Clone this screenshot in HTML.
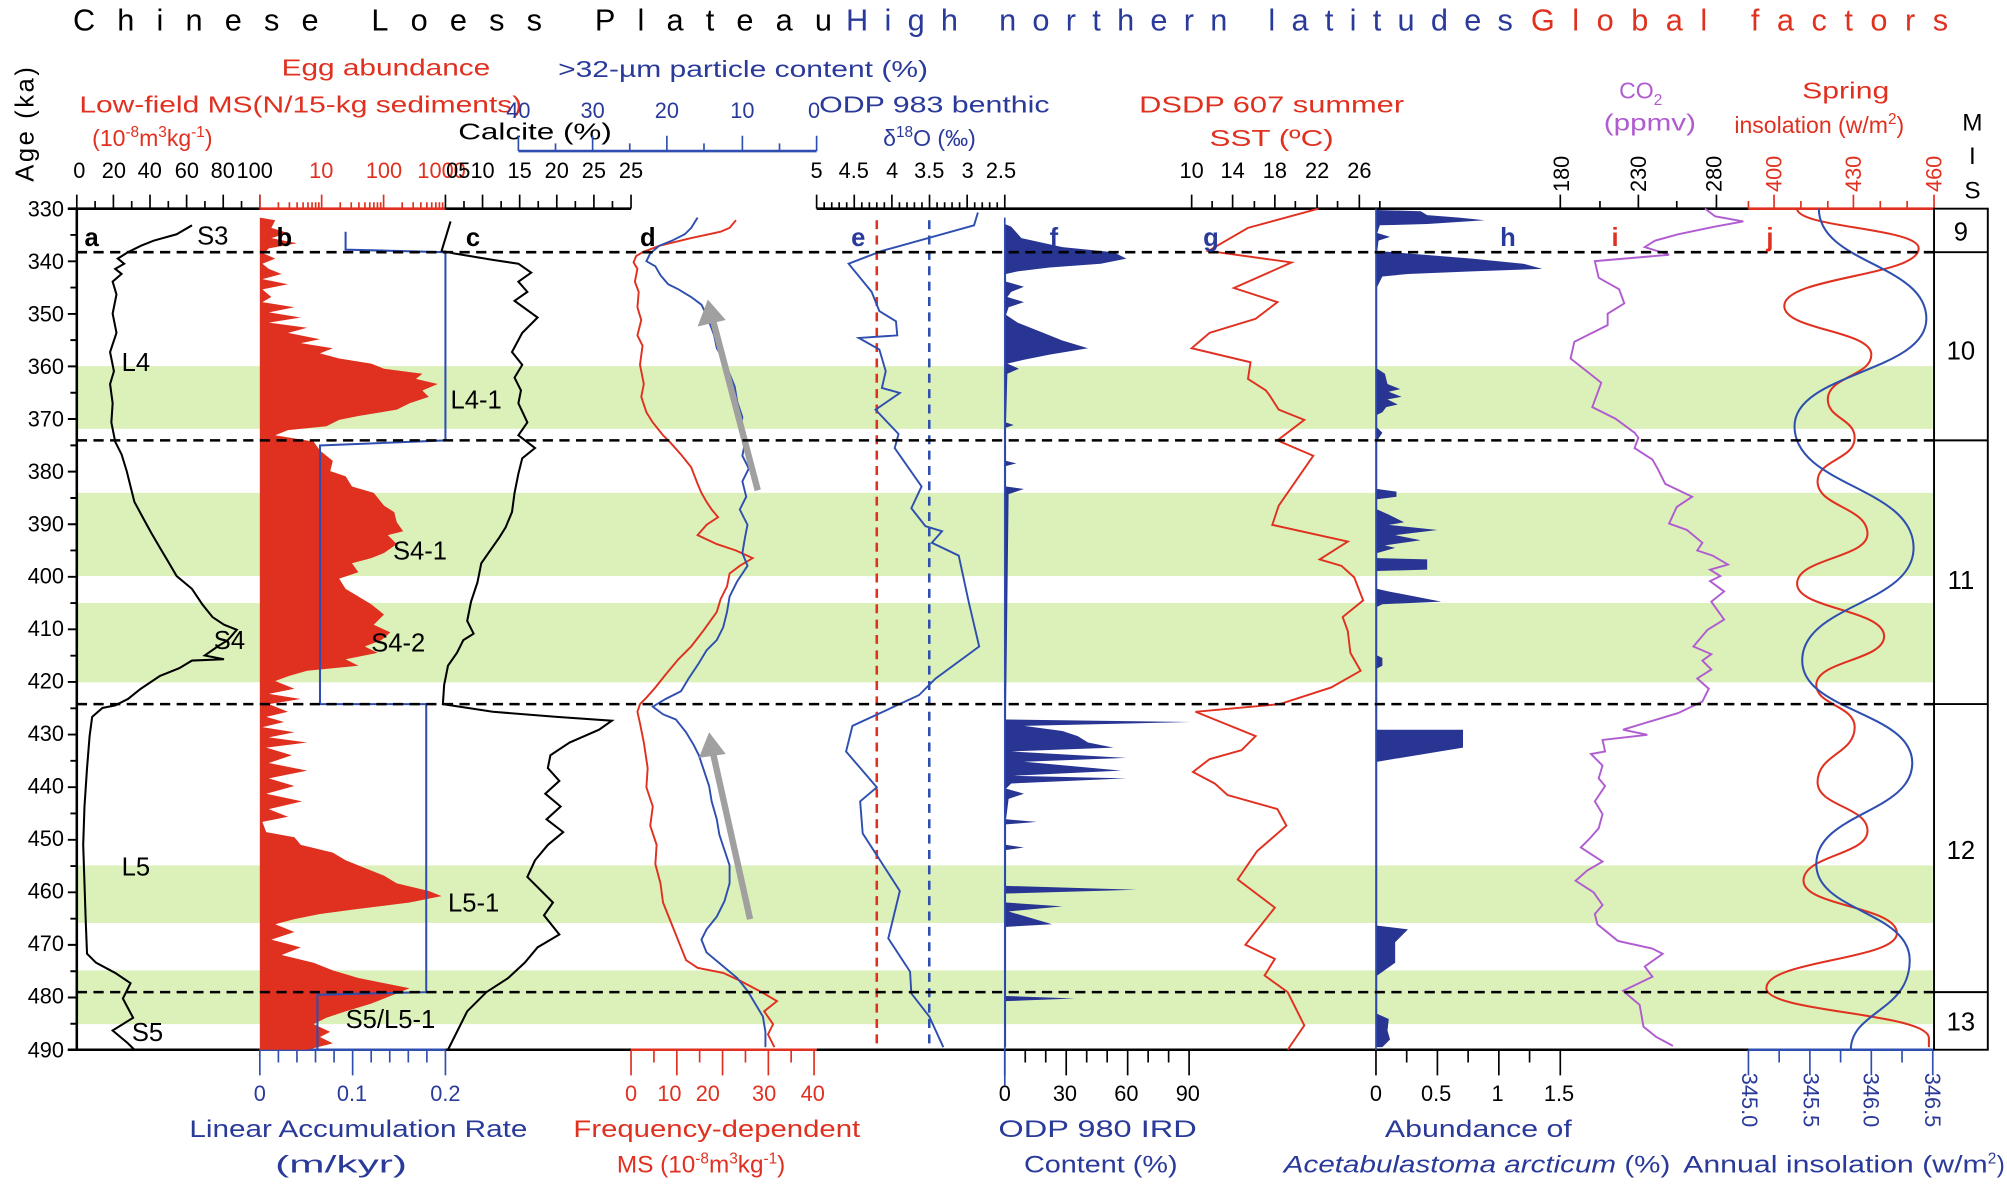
<!DOCTYPE html>
<html><head><meta charset="utf-8"><style>
html,body{margin:0;padding:0;background:#fff;}
svg{display:block;font-family:"Liberation Sans",Arial,sans-serif;}
</style></head><body>
<svg width="2007" height="1188" viewBox="0 0 1568 928" preserveAspectRatio="none" xmlns="http://www.w3.org/2000/svg">
<rect width="1568" height="928" fill="#fff"/>
<!-- Title -->
<text x="57" y="24" font-size="24" textLength="593" lengthAdjust="spacing" fill="#000">Chinese Loess Plateau</text>
<text x="661" y="24" font-size="24" textLength="521" lengthAdjust="spacing" fill="#2a3a9a">High northern latitudes</text>
<text x="1196" y="24" font-size="24" textLength="326" lengthAdjust="spacing" fill="#e03020">Global factors</text>

<!-- green bands -->
<g fill="#dcf1b9">
<rect x="60" y="286" width="1450" height="49"/>
<rect x="60" y="385" width="1450" height="65"/>
<rect x="60" y="471" width="1450" height="62"/>
<rect x="60" y="676" width="1450" height="45"/>
<rect x="60" y="758" width="1450" height="42"/>
</g>

<!-- header texts -->
<g font-size="18">
<text x="220" y="59" textLength="163" lengthAdjust="spacingAndGlyphs" fill="#e03020">Egg abundance</text>
<text x="62" y="88" textLength="346" lengthAdjust="spacingAndGlyphs" fill="#e03020">Low-field MS(N/15-kg sediments)</text>
<text x="72" y="114" fill="#e03020">(10<tspan font-size="12" dy="-7">-8</tspan><tspan dy="7">m</tspan><tspan font-size="12" dy="-7">3</tspan><tspan dy="7">kg</tspan><tspan font-size="12" dy="-7">-1</tspan><tspan dy="7">)</tspan></text>
<text x="358" y="109" textLength="120" lengthAdjust="spacingAndGlyphs" fill="#000">Calcite (%)</text>
<text x="436" y="60" textLength="289" lengthAdjust="spacingAndGlyphs" fill="#2a3a9a">&gt;32-µm particle content (%)</text>
<text x="640" y="88" textLength="180" lengthAdjust="spacingAndGlyphs" fill="#2a3a9a">ODP 983 benthic</text>
<text x="690" y="114" fill="#2a3a9a">δ<tspan font-size="12" dy="-7">18</tspan><tspan dy="7">O (‰)</tspan></text>
<text x="890" y="88" textLength="207" lengthAdjust="spacingAndGlyphs" fill="#e03020">DSDP 607 summer</text>
<text x="945" y="114" textLength="97" lengthAdjust="spacingAndGlyphs" fill="#e03020">SST (ºC)</text>
<text x="1265" y="77" fill="#b05cd0">CO<tspan font-size="12" dy="5">2</tspan></text>
<text x="1253" y="102" textLength="72" lengthAdjust="spacingAndGlyphs" fill="#b05cd0">(ppmv)</text>
<text x="1408" y="77" textLength="68" lengthAdjust="spacingAndGlyphs" fill="#e03020">Spring</text>
<text x="1355" y="104" fill="#e03020">insolation (w/m<tspan font-size="12" dy="-7">2</tspan><tspan dy="7">)</tspan></text>
</g>
<g font-size="19" text-anchor="middle" fill="#000">
<text x="1541" y="102">M</text>
<text x="1541" y="128">I</text>
<text x="1541" y="155">S</text>
</g>
<text transform="translate(26,142) rotate(-90)" font-size="20" fill="#000" letter-spacing="2">Age (ka)</text>

<!-- top tick labels -->
<g font-size="17" text-anchor="middle">
<g fill="#000"><text x="62" y="139">0</text><text x="89" y="139">20</text><text x="117" y="139">40</text><text x="146" y="139">60</text><text x="174" y="139">80</text><text x="199" y="139">100</text></g>
<g fill="#e03020"><text x="251" y="139">10</text><text x="300" y="139">100</text><text x="345" y="139">1000</text></g>
<g fill="#000"><text x="358" y="139">05</text><text x="377" y="139">10</text><text x="406" y="139">15</text><text x="435" y="139">20</text><text x="464" y="139">25</text></g>
<text x="493" y="139" fill="#000">25</text>
<g fill="#2a3a9a"><text x="405" y="92">40</text><text x="463" y="92">30</text><text x="521" y="92">20</text><text x="580" y="92">10</text><text x="636" y="92">0</text></g>
<g fill="#000"><text x="638" y="139">5</text><text x="667" y="139">4.5</text><text x="697" y="139">4</text><text x="726" y="139">3.5</text><text x="756" y="139">3</text><text x="782" y="139">2.5</text></g>
<g fill="#000"><text x="931" y="139">10</text><text x="963" y="139">14</text><text x="996" y="139">18</text><text x="1029" y="139">22</text><text x="1062" y="139">26</text></g>
</g>
<g font-size="17" fill="#000">
<text transform="translate(1226,150) rotate(-90)">180</text>
<text transform="translate(1286,150) rotate(-90)">230</text>
<text transform="translate(1345,150) rotate(-90)">280</text>
<g fill="#e03020"><text transform="translate(1392,150) rotate(-90)">400</text>
<text transform="translate(1454,150) rotate(-90)">430</text>
<text transform="translate(1517,150) rotate(-90)">460</text></g>
</g>

<!-- left axis labels -->
<g font-size="17" text-anchor="end" fill="#000">
<text x="50" y="169">330</text><text x="50" y="210">340</text><text x="50" y="251">350</text><text x="50" y="292">360</text><text x="50" y="333">370</text><text x="50" y="374">380</text><text x="50" y="415">390</text><text x="50" y="456">400</text><text x="50" y="497">410</text><text x="50" y="538">420</text><text x="50" y="579">430</text><text x="50" y="620">440</text><text x="50" y="661">450</text><text x="50" y="702">460</text><text x="50" y="743">470</text><text x="50" y="784">480</text><text x="50" y="826">490</text>
</g>
<path d="M53,163H60M55,183.5H60M53,204.1H60M55,224.6H60M53,245.2H60M55,265.7H60M53,286.2H60M55,306.8H60M53,327.3H60M55,347.9H60M53,368.4H60M55,389H60M53,409.5H60M55,430H60M53,450.6H60M55,471.1H60M53,491.6H60M55,512.2H60M53,532.7H60M55,553.3H60M53,573.8H60M55,594.3H60M53,614.9H60M55,635.4H60M53,656H60M55,676.5H60M53,697H60M55,717.6H60M53,738.1H60M55,758.7H60M53,779.2H60M55,799.7H60M53,820H60" stroke="#000" stroke-width="1.5"/>

<!-- axes lines -->
<g stroke-width="2" fill="none">
<path d="M53,163H203M348,163H493M638,163H1366" stroke="#000"/>
<path d="M203,163H348M1366,163H1511" stroke="#e03020"/>
<path d="M60,163V820" stroke="#000"/>
<path d="M53,820H203M348,820H493M638,820H1366" stroke="#000"/>
<path d="M203,820H348M1366,820H1511" stroke="#2f4fb0"/>
<path d="M493,820H638" stroke="#e03020"/>
<path d="M405,118H638" stroke="#2f4fb0"/>
</g>
<!-- top ticks -->
<g stroke-width="1.3" fill="none">
<path stroke="#000" d="M60,163V152M74.3,163V157M88.6,163V152M102.9,163V157M117.2,163V152M131.5,163V157M145.8,163V152M160.1,163V157M174.4,163V152M188.7,163V157M203,163V152
M348,163V152M362.5,163V157M377,163V152M391.5,163V157M406,163V152M420.5,163V157M435,163V152M449.5,163V157M464,163V152M478.5,163V157M493,163V152
M638,163V152M643.9,163V158M649.8,163V158M655.6,163V158M661.5,163V158M667.4,163V152M673.3,163V158M679.2,163V158M685,163V158M690.9,163V158M696.8,163V152M702.7,163V158M708.6,163V158M714.4,163V158M720.3,163V158M726.2,163V152M732.1,163V158M738,163V158M743.8,163V158M749.7,163V158M755.6,163V152M761.5,163V158M767.4,163V158M773.2,163V158M779.1,163V158M785,163V152
M931,163V152M947,163V157M963,163V152M980,163V157M996,163V152M1012,163V157M1029,163V152M1045,163V157M1062,163V152M1078,163V157
M1219,163V152M1250,163V157M1280,163V152M1310,163V157M1341,163V152"/>
<path stroke="#e03020" d="M203,163V152M217.5,163V158M226.1,163V158M232.1,163V158M236.8,163V158M240.6,163V158M243.8,163V158M246.6,163V158M249.1,163V158M251.3,163V152M265.8,163V158M274.4,163V158M280.4,163V158M285.1,163V158M288.9,163V158M292.1,163V158M294.9,163V158M297.4,163V158M299.7,163V152M314.2,163V158M322.8,163V158M328.8,163V158M333.5,163V158M337.3,163V158M340.5,163V158M343.3,163V158M345.8,163V158
M1366,163V157M1386,163V152M1407,163V157M1428,163V157M1448,163V152M1469,163V157M1490,163V157M1511,163V152"/>
<path stroke="#2f4fb0" d="M405,118V106M434,118V112M463,118V106M492,118V112M521,118V106M550,118V112M580,118V106M609,118V112M638,118V106"/>
<!-- bottom ticks -->
<path stroke="#2f4fb0" d="M203,820V840M217.5,820V830M232,820V830M246.5,820V830M261,820V830M275.5,820V840M290,820V830M304.5,820V830M319,820V830M333.5,820V830M348,820V840
M1366,820V840M1390,820V830M1414,820V840M1438,820V830M1462,820V840M1486,820V830M1510,820V840"/>
<path stroke="#e03020" d="M493,820V840M510.9,820V830M528.8,820V840M546.6,820V830M564.5,820V840M582.4,820V830M600.3,820V840M618.1,820V830M636,820V840"/>
<path stroke="#000" d="M785,820V840M801,820V830M817,820V830M833,820V840M849,820V830M865,820V830M881,820V840M897,820V830M913,820V830M929,820V840
M1075,820V840M1099,820V830M1123,820V840M1147,820V830M1171,820V840M1195,820V830M1219,820V840"/>
</g>

<!-- bottom tick labels -->
<g font-size="17" text-anchor="middle">
<g fill="#2a3a9a"><text x="203" y="860">0</text><text x="275" y="860">0.1</text><text x="348" y="860">0.2</text></g>
<g fill="#e03020"><text x="493" y="860">0</text><text x="523" y="860">10</text><text x="553" y="860">20</text><text x="597" y="860">30</text><text x="635" y="860">40</text></g>
<g fill="#000"><text x="785" y="860">0</text><text x="832" y="860">30</text><text x="880" y="860">60</text><text x="928" y="860">90</text>
<text x="1075" y="860">0</text><text x="1122" y="860">0.5</text><text x="1170" y="860">1</text><text x="1218" y="860">1.5</text></g>
</g>
<g font-size="17" fill="#2a3a9a">
<text transform="translate(1361,838) rotate(90)">345.0</text>
<text transform="translate(1409,838) rotate(90)">345.5</text>
<text transform="translate(1456,838) rotate(90)">346.0</text>
<text transform="translate(1504,838) rotate(90)">346.5</text>
</g>
<g font-size="19">
<text x="148" y="888" textLength="264" lengthAdjust="spacingAndGlyphs" fill="#2a3a9a">Linear Accumulation Rate</text>
<text x="215" y="916" textLength="103" lengthAdjust="spacingAndGlyphs" fill="#2a3a9a">(m/kyr)</text>
<text x="448" y="888" textLength="224" lengthAdjust="spacingAndGlyphs" fill="#e03020">Frequency-dependent</text>
<text x="482" y="916" fill="#e03020">MS (10<tspan font-size="12" dy="-7">-8</tspan><tspan dy="7">m</tspan><tspan font-size="12" dy="-7">3</tspan><tspan dy="7">kg</tspan><tspan font-size="12" dy="-7">-1</tspan><tspan dy="7">)</tspan></text>
<text x="780" y="888" textLength="155" lengthAdjust="spacingAndGlyphs" fill="#2a3a9a">ODP 980 IRD</text>
<text x="800" y="916" textLength="120" lengthAdjust="spacingAndGlyphs" fill="#2a3a9a">Content (%)</text>
<text x="1082" y="888" textLength="146" lengthAdjust="spacingAndGlyphs" fill="#2a3a9a">Abundance of</text>
<text x="1003" y="916" textLength="302" lengthAdjust="spacingAndGlyphs" fill="#2a3a9a"><tspan font-style="italic">Acetabulastoma arcticum</tspan> (%)</text>
<text x="1315" y="916" fill="#2a3a9a" textLength="238" lengthAdjust="spacingAndGlyphs">Annual insolation (w/m</text>
<text x="1553" y="909" font-size="12" fill="#2a3a9a">2</text>
<text x="1560" y="916" fill="#2a3a9a">)</text>
</g>

<!-- MIS box -->
<g stroke="#000" stroke-width="1.5" fill="none">
<rect x="1511" y="163" width="42" height="657"/>
<path d="M1511,197H1553M1511,344H1553M1511,550H1553M1511,775H1553"/>
</g>
<g font-size="20" text-anchor="middle" fill="#000">
<text x="1532" y="188">9</text><text x="1532" y="281">10</text><text x="1532" y="460">11</text><text x="1532" y="671">12</text><text x="1532" y="805">13</text>
</g>

<!-- panel b fill -->
<polygon fill="#e03020" points="203,170 215,172 212,178 225,182 212,186 232,190 210,194 206,198 215,202 205,206 210,210 220,214 205,218 225,222 205,226 212,232 205,236 230,240 210,244 235,248 210,252 240,256 225,260 250,265 235,268 260,272 250,276 265,280 290,284 300,288 330,292 325,296 342,300 330,305 335,310 320,315 310,320 280,325 265,328 255,333 225,336 215,340 245,345 250,352 260,360 258,368 270,372 275,380 292,385 300,395 308,400 310,408 315,415 303,418 310,425 300,432 290,436 275,440 280,447 265,452 270,460 280,466 290,472 300,480 292,488 305,494 298,500 285,505 295,510 270,515 280,520 240,524 226,528 215,532 230,538 210,542 235,546 210,550 225,556 208,560 222,564 205,568 230,572 210,576 240,580 208,584 228,590 210,596 240,602 210,608 230,614 208,620 236,626 210,632 225,638 205,642 208,650 230,654 235,660 260,666 270,672 285,678 300,684 310,690 335,696 345,700 320,705 280,710 250,714 230,718 215,722 230,728 212,734 235,740 220,746 245,752 260,758 280,764 300,768 320,772 305,778 290,784 270,790 255,795 245,800 258,806 250,810 260,815 240,820 203,820"/>

<!-- panel b blue step -->
<path d="M270,181V195L348,197V344L250,348V550H333V775L248,777V820" fill="none" stroke="#2f4fb0" stroke-width="1.6"/>

<!-- panel a -->
<polyline fill="none" stroke="#000" stroke-width="1.6" points="150,176 138,183 120,188 110,192 100,197 92,202 97,206 90,210 95,214 88,220 91,230 88,245 91,260 86,275 89,290 86,300 88,315 87,330 90,345 95,355 99,368 102,380 105,392 112,405 118,416 125,428 131,438 138,450 150,460 158,472 166,482 175,488 185,492 178,500 170,505 160,512 175,515 150,516 140,522 125,528 110,538 100,546 90,551 80,553 72,560 70,575 68,600 66,630 65,660 66,690 67,720 68,745 75,752 90,760 102,768 96,780 104,795 88,805 100,815 105,820"/>

<!-- panel c -->
<polyline fill="none" stroke="#000" stroke-width="1.6" points="352,173 345,196 355,198 385,203 405,206 415,213 405,220 412,228 402,235 420,248 408,260 400,275 408,285 402,295 407,305 405,315 412,330 405,340 418,350 408,358 405,370 402,385 400,400 395,412 390,420 383,430 376,440 373,455 368,470 365,485 370,495 362,500 357,510 350,520 347,535 346,550 385,556 435,560 478,563 468,570 445,580 430,590 428,600 437,610 426,620 438,630 427,640 440,650 428,660 418,672 412,685 422,695 432,705 425,715 437,730 420,740 410,752 397,764 380,775 365,790 350,820"/>

<!-- panel d -->
<polyline fill="none" stroke="#e03020" stroke-width="1.5" points="575,172 570,178 563,181 540,186 515,192 502,197 497,200 495,205 498,210 496,220 499,228 498,240 501,250 498,262 502,270 500,285 503,300 501,310 505,322 510,330 518,340 524,346 532,355 540,365 545,378 548,385 552,392 556,398 561,404 552,410 545,418 560,425 575,430 588,436 578,442 570,448 568,458 563,468 560,478 550,492 540,505 530,515 520,527 512,537 505,545 500,550 498,556 500,565 503,580 506,600 505,615 510,630 508,645 513,660 512,675 516,690 518,705 524,720 530,735 536,750 545,756 565,760 578,766 595,775 607,782 597,790 604,800 600,808 605,818"/>
<polyline fill="none" stroke="#2f4fb0" stroke-width="1.5" points="545,170 540,178 535,183 525,188 515,192 508,198 505,204 512,208 516,215 522,222 530,226 540,232 548,238 552,246 555,254 558,262 560,272 566,282 570,292 574,302 576,314 580,326 578,336 582,346 580,356 585,366 580,376 583,388 578,398 584,410 582,420 580,432 584,442 576,454 570,466 568,478 565,490 560,500 552,508 546,518 538,530 532,540 520,546 510,552 518,558 528,562 536,572 542,582 546,590 550,602 554,614 556,626 560,640 562,652 566,664 570,676 570,690 566,704 560,716 552,726 548,734 552,744 564,754 576,764 584,774 590,784 596,794 598,806 598,818"/>
<!-- arrows -->
<g stroke="#a0a0a0" stroke-width="5" fill="#a0a0a0">
<line x1="592" y1="383" x2="557" y2="250"/>
<polygon points="553,234 545,255 567,250" stroke="none"/>
<line x1="586" y1="718" x2="557" y2="588"/>
<polygon points="554,572 546,592 567,589" stroke="none"/>
</g>

<!-- panel e -->
<g stroke-width="2" stroke-dasharray="7,5" fill="none">
<line x1="685" y1="172" x2="685" y2="820" stroke="#e03020"/>
<line x1="726" y1="172" x2="726" y2="820" stroke="#2f4fb0"/>
</g>
<polyline fill="none" stroke="#2f4fb0" stroke-width="1.5" points="764,166 761,176 689,196 663,206 681,228 687,243 700,251 701,262 671,264 687,273 692,290 689,303 703,307 684,320 702,339 699,350 720,380 712,397 723,411 736,415 728,424 749,434 757,471 765,505 731,530 718,543 666,567 661,587 685,615 672,626 674,651 703,696 694,733 711,759 712,776 726,794 737,818"/>

<!-- panel f -->
<polygon fill="#283593" points="785,175 790,177 798,186 830,193 870,197 880,202 860,206 820,209 795,212 786,214 786,220 800,224 790,228 787,232 800,236 788,240 786,246 795,252 810,258 830,266 850,272 820,277 800,281 787,284 796,288 787,292 786,330 792,332 786,334 786,360 794,362 786,364 786,380 800,382 788,386 786,555 786,562 930,564 800,567 830,571 842,575 850,580 870,584 790,587 880,592 800,595 876,602 792,606 880,608 790,612 786,616 800,620 788,624 786,640 810,642 786,644 786,660 800,662 786,664 786,692 888,695 786,698 786,705 830,708 788,712 822,722 786,724 786,778 840,780 786,782 786,818 785,818"/>
<line x1="785" y1="170" x2="785" y2="848" stroke="#2f4fb0" stroke-width="1.3"/>

<!-- panel g -->
<polyline fill="none" stroke="#e03020" stroke-width="1.5" points="1030,163 975,178 944,196 1009,205 964,225 998,236 981,249 945,260 931,272 977,283 975,296 989,305 992,309 999,320 1019,328 998,344 1026,356 999,395 994,410 1053,423 1031,437 1048,442 1058,451 1065,469 1049,482 1053,493 1055,510 1063,524 1040,537 1000,550 934,556 981,575 970,586 945,593 932,603 949,612 959,621 998,632 1005,645 982,665 967,687 996,709 973,738 996,749 988,762 1006,775 1019,801 1006,820"/>

<!-- panel h -->
<polygon fill="#283593" points="1075,164 1110,165 1115,168 1140,170 1160,172 1115,175 1078,176 1076,182 1086,185 1077,188 1076,196 1100,198 1150,202 1190,206 1205,210 1150,212 1100,214 1080,216 1076,224 1076,288 1082,292 1084,300 1094,304 1085,306 1095,310 1084,312 1092,316 1083,318 1080,322 1076,324 1076,334 1080,338 1076,344 1076,382 1091,384 1091,388 1076,390 1076,398 1085,402 1097,408 1085,410 1123,414 1090,418 1110,422 1082,426 1090,428 1076,432 1076,436 1115,437 1115,445 1076,446 1076,460 1085,462 1126,470 1080,472 1076,474 1076,512 1080,514 1080,520 1076,522 1076,570 1143,570 1143,584 1076,595 1076,723 1100,726 1090,736 1090,752 1076,762 1076,792 1085,796 1084,805 1086,812 1080,818 1075,818"/>
<line x1="1075" y1="163" x2="1075" y2="820" stroke="#2f4fb0" stroke-width="1.3"/>

<!-- panel i -->
<polyline fill="none" stroke="#b05cd0" stroke-width="1.5" points="1332,163 1340,169 1362,173 1340,177 1311,183 1293,188 1285,193 1304,199 1246,204 1249,217 1265,226 1269,237 1256,245 1256,254 1230,267 1227,280 1246,295 1251,299 1244,318 1262,327 1277,338 1280,342 1277,350 1291,359 1295,366 1301,378 1322,388 1310,396 1304,409 1318,414 1330,424 1326,430 1338,434 1350,441 1336,445 1344,450 1336,454 1347,462 1337,470 1347,484 1334,492 1323,505 1337,511 1330,516 1337,523 1326,530 1335,538 1330,548 1311,557 1268,570 1287,574 1252,578 1254,587 1243,589 1252,598 1249,608 1254,614 1246,626 1252,636 1249,647 1242,655 1235,662 1252,673 1240,680 1231,688 1245,697 1252,707 1246,714 1248,722 1264,735 1291,741 1299,745 1285,755 1291,763 1268,774 1281,785 1284,802 1294,810 1307,817"/>

<!-- panel j -->
<path fill="none" stroke="#e03020" stroke-width="1.6" d="M1404,163 C1404,178 1499,178 1499,194 C1499,216 1394,216 1394,239 C1394,258 1462,258 1462,277 C1462,294 1428,294 1428,312 C1428,327 1449,327 1449,342 C1449,359 1420,359 1420,376 C1420,396 1459,396 1459,417 C1459,436 1404,436 1404,456 C1404,476 1472,476 1472,497 C1472,516 1419,516 1419,535 C1419,551 1449,551 1449,568 C1449,589 1420,589 1420,611 C1420,630 1459,630 1459,649 C1459,668 1409,668 1409,688 C1409,708 1482,708 1482,729 C1482,750 1380,750 1380,772 C1380,791 1507,791 1507,811 L1507,818"/>
<path fill="none" stroke="#2f4fb0" stroke-width="1.6" d="M1421,163 C1421,206 1505,206 1505,249 C1505,291 1402,291 1402,333 C1402,380 1495,380 1495,428 C1495,472 1408,472 1408,516 C1408,556 1494,556 1494,596 C1494,635 1419,635 1419,675 C1419,712 1492,712 1492,750 C1492,790 1446,790 1446,820"/>

<!-- dashed boundaries -->
<g stroke="#000" stroke-width="2" stroke-dasharray="8,5">
<line x1="60" y1="197" x2="1511" y2="197"/>
<line x1="60" y1="344" x2="1511" y2="344"/>
<line x1="60" y1="550" x2="1511" y2="550"/>
<line x1="60" y1="775" x2="1511" y2="775"/>
</g>

<!-- panel letters -->
<g font-size="20" font-weight="bold">
<text x="66" y="192" fill="#000">a</text><text x="216" y="192" fill="#000">b</text><text x="364" y="192" fill="#000">c</text><text x="500" y="192" fill="#000">d</text>
<text x="665" y="192" fill="#2a3a9a">e</text><text x="820" y="192" fill="#2a3a9a">f</text><text x="940" y="192" fill="#2a3a9a">g</text><text x="1172" y="192" fill="#2a3a9a">h</text>
<text x="1259" y="192" fill="#e03020">i</text><text x="1380" y="192" fill="#e03020">j</text>
</g>
<g font-size="20" fill="#000">
<text x="154" y="191">S3</text><text x="95" y="290">L4</text><text x="352" y="319">L4-1</text><text x="307" y="437">S4-1</text>
<text x="167" y="507">S4</text><text x="290" y="509">S4-2</text><text x="95" y="684">L5</text><text x="350" y="712">L5-1</text>
<text x="270" y="803">S5/L5-1</text><text x="103" y="813">S5</text>
</g>
</svg>
</body></html>
